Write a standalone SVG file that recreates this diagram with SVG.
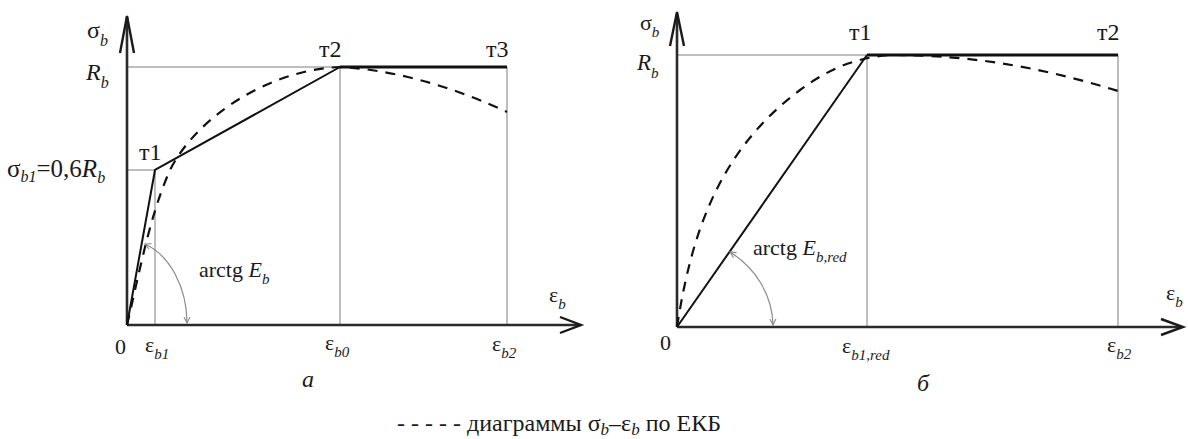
<svg xmlns="http://www.w3.org/2000/svg" width="1188" height="439" viewBox="0 0 1188 439" font-family="'Liberation Serif','DejaVu Serif',serif">
<style>
text{font-family:'Liberation Serif','DejaVu Serif',serif;fill:#1a1a1a;font-size:22px;}
.it{font-style:italic;}
.sub{font-size:15px;font-style:italic;}
.pt{font-size:24px;}
.axis{stroke:#2a2a2a;stroke-width:2.6;fill:none;}
.head{stroke:#1a1a1a;stroke-width:2.4;fill:none;stroke-linejoin:miter;}
.grid{stroke:#a8a8a8;stroke-width:1.5;fill:none;}
.solid{stroke:#111;stroke-width:2;fill:none;}
.plateau{stroke:#111;stroke-width:3;fill:none;}
.dash{stroke:#111;stroke-width:2.2;fill:none;stroke-dasharray:10 8;}
.arc{stroke:#8a8a8a;stroke-width:1.2;fill:none;}
</style>
<defs>
<marker id="ah" markerWidth="8" markerHeight="8" refX="6" refY="4" orient="auto-start-reverse" markerUnits="userSpaceOnUse">
<path d="M0,1 L6,4 L0,7" fill="none" stroke="#8a8a8a" stroke-width="1.1"/>
</marker>
</defs>

<g id="chart-a">
<g id="grid-a">
<line class="grid" x1="127" y1="67" x2="340" y2="67"/>
<line class="grid" x1="127" y1="170" x2="155" y2="170"/>
<line class="grid" x1="155" y1="170" x2="155" y2="325"/>
<line class="grid" x1="340" y1="67" x2="340" y2="325"/>
<line class="grid" x1="507" y1="67" x2="507" y2="325"/>
</g>
<g id="axes-a">
<line class="axis" x1="127" y1="325" x2="127" y2="17"/>
<path class="head" d="M120,53 L127,16 L134,53"/>
<line class="axis" x1="127" y1="325" x2="580" y2="325"/>
<path class="head" d="M560,317 L581,325 L560,333"/>
</g>
<g id="curves-a">
<path class="dash" d="M127,325 C140,270 150,215 170,170 C195,120 265,70 340,67 C400,70 460,90 507,112"/>
<path class="solid" d="M127,325 L155,170 L340,67"/>
<line class="plateau" x1="340" y1="67" x2="507" y2="67"/>
<path class="arc" d="M145,244 A62,84 0 0 1 187,323" marker-start="url(#ah)" marker-end="url(#ah)"/>
</g>
<g id="labels-a">
<text x="87" y="38" style="font-size:24px">σ<tspan class="sub" dy="8" style="font-size:16px">b</tspan></text>
<text class="it" x="86" y="80" style="font-size:24px">R<tspan class="sub" dy="8" style="font-size:16px">b</tspan></text>
<text x="7" y="177" style="font-size:25px">σ<tspan class="sub" dy="5" style="font-size:16px">b1</tspan><tspan dy="-5">=0,6</tspan><tspan class="it">R</tspan><tspan class="sub" dy="6" style="font-size:16px">b</tspan></text>
<text class="pt" x="139" y="160">т1</text>
<text class="pt" x="319" y="57">т2</text>
<text class="pt" x="486" y="57">т3</text>
<text x="199" y="277">arctg <tspan class="it">E</tspan><tspan class="sub" dy="7">b</tspan></text>
<text x="115" y="354">0</text>
<text x="145" y="352">ε<tspan class="sub" dy="7">b1</tspan></text>
<text x="325" y="350">ε<tspan class="sub" dy="7">b0</tspan></text>
<text x="492" y="351">ε<tspan class="sub" dy="7">b2</tspan></text>
<text x="549" y="302">ε<tspan class="sub" dy="7">b</tspan></text>
<text class="it" x="302" y="387" style="font-size:24px">а</text>
</g>
</g>

<g id="chart-b">
<g id="grid-b">
<line class="grid" x1="677" y1="55" x2="867" y2="55"/>
<line class="grid" x1="867" y1="55" x2="867" y2="327"/>
<line class="grid" x1="1118" y1="55" x2="1118" y2="327"/>
</g>
<g id="axes-b">
<line class="axis" x1="677" y1="327" x2="677" y2="14"/>
<path class="head" d="M670,46 L677,12 L684,46"/>
<line class="axis" x1="677" y1="327" x2="1182" y2="327"/>
<path class="head" d="M1161,319 L1183,327 L1161,335"/>
</g>
<g id="curves-b">
<path class="dash" d="M677,327 C692,230 720,150 800,90 C830,68 855,58 890,55 C980,55 1050,70 1118,91"/>
<path class="solid" d="M677,327 L867,55"/>
<line class="plateau" x1="867" y1="55" x2="1118" y2="55" stroke="#444"/>
<path class="arc" d="M730,252 A96,90 0 0 1 773,325" marker-start="url(#ah)" marker-end="url(#ah)"/>
</g>
<g id="labels-b">
<text x="640" y="30">σ<tspan class="sub" dy="7">b</tspan></text>
<text class="it" x="637" y="70" style="font-size:23px">R<tspan class="sub" dy="8">b</tspan></text>
<text class="pt" x="849" y="40">т1</text>
<text class="pt" x="1097" y="40">т2</text>
<text x="753" y="255">arctg <tspan class="it">E</tspan><tspan class="sub" dy="7">b,red</tspan></text>
<text x="660" y="350">0</text>
<text x="842" y="353">ε<tspan class="sub" dy="7">b1,red</tspan></text>
<text x="1107" y="352">ε<tspan class="sub" dy="7">b2</tspan></text>
<text x="1166" y="300">ε<tspan class="sub" dy="7">b</tspan></text>
<text class="it" x="917" y="391" style="font-size:24px">б</text>
</g>
</g>

<g id="legend">
<text x="397" y="431" style="font-size:24px">- - - - - диаграммы σ<tspan class="sub" dy="4" style="font-size:17px">b</tspan><tspan dy="-4">–ε</tspan><tspan class="sub" dy="4" style="font-size:17px">b</tspan><tspan dy="-4"> по ЕКБ</tspan></text>
</g>
</svg>
